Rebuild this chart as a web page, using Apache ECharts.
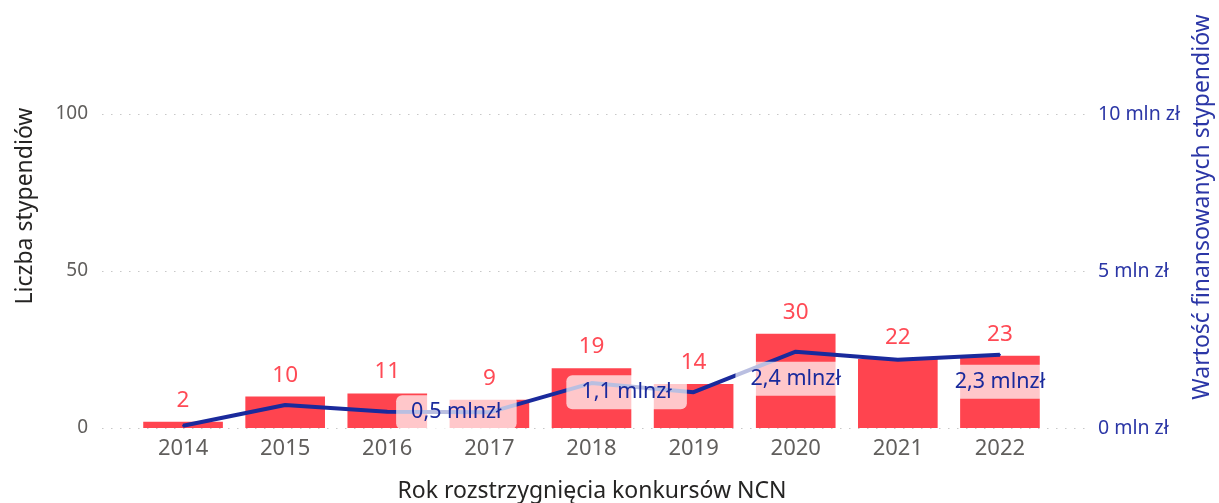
<!DOCTYPE html>
<html>
<head>
<meta charset="utf-8">
<script src="https://cdn.jsdelivr.net/npm/echarts@6/dist/echarts.min.js"></script>
<style>
  html, body { margin: 0; padding: 0; background: #fff; }
  #chart { width: 1219px; height: 503px; }
</style>
</head>
<body>
<div id="chart"></div>
<script>
// data
const years = ['2014', '2015', '2016', '2017', '2018', '2019', '2020', '2021', '2022'];
const scholarshipCounts = [2, 10, 11, 9, 19, 14, 30, 22, 23];
const fundingMln = [0.07, 0.73, 0.52, 0.5, 1.43, 1.14, 2.43, 2.17, 2.33];
const countTicks = [0, 50, 100];
const fundingTicks = [0, 5, 10];

const FONT = "'Segoe UI', 'Noto Sans', sans-serif";
const RED = '#FF444F';
const NAVY = '#1A2A9C';
const BLUE_TEXT = '#2B36A6';
const GREY_TEXT = '#605E5C';

// only some points get a value label, placed beside / below the line
const lineLabelPlacement = {
  3: [-33, 0],
  5: [-67, 0],
  6: [0, 27],
  8: [0, 27]
};

const fmtMln = (v) => v.toFixed(1).replace('.', ',') + ' mlnzł';

const lineData = fundingMln.map((v, i) => {
  const off = lineLabelPlacement[i];
  return {
    value: v,
    label: off
      ? { show: true, position: 'inside', offset: off }
      : { show: false }
  };
});

const chart = echarts.init(document.getElementById('chart'));

const option = {
  animation: false,
  textStyle: { fontFamily: FONT },
  grid: [
    // wide grid: gridlines + value axes
    { left: 102, right: 134, top: 114, bottom: 75 },
    // inner grid: categories and marks
    { left: 132, right: 168, top: 114, bottom: 75 }
  ],
  xAxis: [
    { gridIndex: 0, type: 'value', show: false, min: 0, max: 1 },
    {
      gridIndex: 1,
      type: 'category',
      data: years,
      axisLine: { show: false },
      axisTick: { show: false },
      axisLabel: { color: GREY_TEXT, fontSize: 22, margin: 10, fontFamily: FONT }
    }
  ],
  yAxis: [
    {
      gridIndex: 0,
      type: 'value',
      position: 'left',
      min: countTicks[0],
      max: countTicks[countTicks.length - 1],
      interval: countTicks[1] - countTicks[0],
      axisLine: { show: false },
      axisTick: { show: false },
      axisLabel: { color: GREY_TEXT, fontSize: 19, margin: 14, fontFamily: FONT },
      splitLine: { show: true, lineStyle: { color: '#C8C8C8', width: 1.2, type: [1.5, 7.5] } }
    },
    {
      gridIndex: 0,
      type: 'value',
      position: 'right',
      min: fundingTicks[0],
      max: fundingTicks[fundingTicks.length - 1],
      interval: fundingTicks[1] - fundingTicks[0],
      axisLine: { show: false },
      axisTick: { show: false },
      splitLine: { show: false },
      axisLabel: {
        color: BLUE_TEXT, fontSize: 19.5, margin: 13, fontFamily: FONT,
        formatter: (v) => v + ' mln zł'
      }
    },
    { gridIndex: 1, type: 'value', show: false, min: countTicks[0], max: countTicks[countTicks.length - 1] },
    { gridIndex: 1, type: 'value', show: false, min: fundingTicks[0], max: fundingTicks[fundingTicks.length - 1] }
  ],
  series: [
    {
      name: 'Liczba stypendiów',
      type: 'bar',
      xAxisIndex: 1,
      yAxisIndex: 2,
      data: scholarshipCounts,
      barCategoryGap: '22%',
      itemStyle: { color: RED },
      label: {
        show: true,
        position: 'top',
        distance: 10,
        color: '#FF4A55',
        fontSize: 22.5,
        fontFamily: FONT
      }
    },
    {
      name: 'Wartość finansowanych stypendiów',
      type: 'line',
      xAxisIndex: 1,
      yAxisIndex: 3,
      data: lineData,
      symbol: 'circle',
      symbolSize: 2,
      itemStyle: { color: NAVY },
      lineStyle: { color: NAVY, width: 4 },
      label: {
        color: NAVY,
        fontSize: 21.5,
        lineHeight: 24,
        fontFamily: FONT,
        backgroundColor: 'rgba(255,255,255,0.7)',
        borderRadius: 6,
        padding: [5, 15],
        formatter: (p) => fmtMln(p.value)
      },
      z: 5
    }
  ],
  graphic: [
    {
      type: 'text',
      x: 25, y: 206,
      rotation: Math.PI / 2,
      style: {
        text: 'Liczba stypendiów',
        align: 'center', verticalAlign: 'middle',
        font: '23px ' + FONT, fill: '#252423'
      }
    },
    {
      type: 'text',
      x: 1202, y: 207,
      rotation: Math.PI / 2,
      style: {
        text: 'Wartość finansowanych stypendiów',
        align: 'center', verticalAlign: 'middle',
        font: '23px ' + FONT, fill: BLUE_TEXT
      }
    },
    {
      type: 'text',
      x: 592, y: 491,
      style: {
        text: 'Rok rozstrzygnięcia konkursów NCN',
        align: 'center', verticalAlign: 'middle',
        font: '23px ' + FONT, fill: '#252423'
      }
    }
  ]
};

chart.setOption(option);
window.addEventListener('resize', () => chart.resize());
</script>
</body>
</html>
